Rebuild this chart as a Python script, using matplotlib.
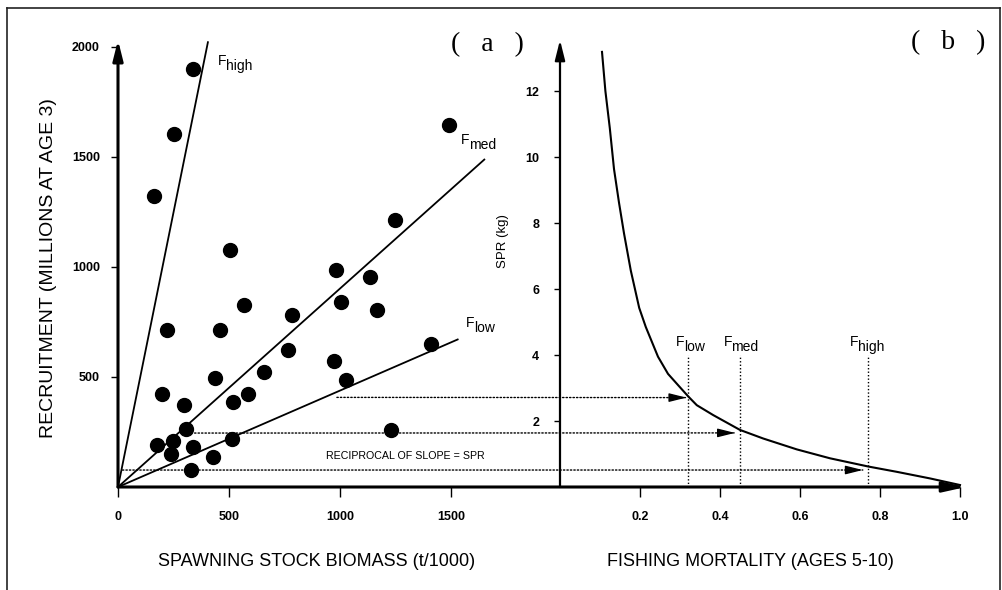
import matplotlib
matplotlib.use('Agg')
import matplotlib.pyplot as plt
from matplotlib.patches import ConnectionPatch
from matplotlib.lines import Line2D

plt.rcParams['font.family'] = ['Liberation Sans', 'DejaVu Sans']

# panel (a): spawning stock biomass (t/1000) vs recruitment (millions)
ssb = [337, 252, 161, 506, 981, 1133, 1248, 1489,
       221, 460, 568, 783, 1006, 1167, 764, 657, 971, 1025, 1410,
       437, 196, 297, 516, 585, 308, 176, 248, 239, 340, 430, 513, 331, 1231]
recruits = [1898, 1605, 1323, 1077, 984, 953, 1214, 1644,
            715, 715, 826, 783, 839, 803, 624, 523, 570, 488, 648,
            497, 421, 374, 385, 421, 262, 191, 208, 152, 182, 135, 220, 76, 258]

# replacement lines through the origin (end points)
line_subs = ['high', 'med', 'low']
line_ssb_end = [405, 1650, 1530]
line_rec_end = [2020, 1487, 670]
line_lab_ssb = [450, 1545, 1568]
line_lab_rec = [1936, 1577, 745]

# panel (b): SPR curve
f_vals = [0.105, 0.1135, 0.1245, 0.135, 0.1475, 0.160, 0.177, 0.198, 0.2145,
          0.245, 0.270, 0.298, 0.321, 0.342, 0.383, 0.45, 0.508, 0.592,
          0.675, 0.771, 0.842, 0.925, 1.0]
spr_vals = [13.19, 12.0, 10.88, 9.64, 8.62, 7.69, 6.56, 5.43, 4.85,
            3.95, 3.43, 3.05, 2.74, 2.48, 2.18, 1.73, 1.47, 1.14,
            0.87, 0.62, 0.46, 0.26, 0.06]

# reference F values
f_ref = [0.321, 0.45, 0.771]
f_ref_subs = ['low', 'med', 'high']
f_ref_lab_x = [0.29, 0.409, 0.725]
f_ref_top = 4.0

# dotted arrows: start in (a), end on the curve in (b)
arrow_ssb = [986, 345, 20]
arrow_rec = [407, 245, 77]
arrow_f = [0.316, 0.4375, 0.757]
arrow_spr = [2.71, 1.64, 0.515]

W, H = 1003, 590
fig = plt.figure(figsize=(W / 100, H / 100), dpi=100)
ax1 = fig.add_axes([118 / W, 1 - 487 / H, 442 / W, 447 / H])
ax2 = fig.add_axes([560 / W, 1 - 487 / H, 406 / W, 447 / H])

dots = (0, (1, 1.5))


def f_label(ax, x, y, sub):
    ax.text(x, y, 'F', fontsize=10, va='center', ha='left')
    ax.annotate(sub, xy=(x, y), xytext=(5.5, -3.5), textcoords='offset points',
                fontsize=10, va='center', ha='left')


# ---- panel (a)
ax1.plot(ssb, recruits, 'o', ms=10, color='k')
for xe, ye in zip(line_ssb_end, line_rec_end):
    ax1.plot([0, xe], [0, ye], 'k-', lw=1.3)
for x, y, s in zip(line_lab_ssb, line_lab_rec, line_subs):
    f_label(ax1, x, y, s)
ax1.text(1293, 141, 'RECIPROCAL OF SLOPE = SPR', fontsize=7.7, ha='center', va='center')

ax1.set_xlim(0, 1991)
ax1.set_ylim(0, 2030)
ax1.set_xticks([0, 500, 1000, 1500])
ax1.set_yticks([500, 1000, 1500, 2000])
ax1.tick_params(axis='y', length=5, width=1, pad=8, labelsize=9)
ax1.tick_params(axis='x', length=7, width=1, pad=10, labelsize=9)
for lab in ax1.get_xticklabels() + ax1.get_yticklabels():
    lab.set_fontweight('bold')
for s in ax1.spines.values():
    s.set_visible(False)
ax1.annotate('', xy=(0, 1), xytext=(0, 0), xycoords='axes fraction',
             arrowprops=dict(arrowstyle='-|>,head_length=0.8,head_width=0.2',
                             lw=2.2, color='k', shrinkA=0, shrinkB=0, mutation_scale=15))
ax1.set_ylabel('RECRUITMENT (MILLIONS AT AGE 3)', fontsize=14)
ax1.yaxis.set_label_coords(-0.138, 0.49)
ax1.set_xlabel('SPAWNING STOCK BIOMASS (t/1000)', fontsize=13)
ax1.xaxis.set_label_coords(0.45, -0.148)

# ---- panel (b)
ax2.plot(f_vals, spr_vals, 'k-', lw=1.5)
ax2.vlines(f_ref, 0, f_ref_top, colors='k', linestyles=[dots], lw=1)
for x, s in zip(f_ref_lab_x, f_ref_subs):
    f_label(ax2, x, 4.39, s)

ax2.set_xlim(0, 1.015)
ax2.set_ylim(0, 13.55)
ax2.set_xticks([0.2, 0.4, 0.6, 0.8, 1.0])
ax2.set_xticklabels(['0.2', '0.4', '0.6', '0.8', '1.0'])
ax2.set_yticks([2, 4, 6, 8, 10, 12])
ax2.tick_params(axis='y', length=4, width=1, pad=11, labelsize=9)
ax2.tick_params(axis='x', length=7, width=1, pad=10, labelsize=9)
for lab in ax2.get_xticklabels() + ax2.get_yticklabels():
    lab.set_fontweight('bold')
for s in ax2.spines.values():
    s.set_visible(False)
ax2.annotate('', xy=(0, 1), xytext=(0, 0), xycoords='axes fraction',
             arrowprops=dict(arrowstyle='-|>,head_length=0.8,head_width=0.2',
                             lw=1.6, color='k', shrinkA=0, shrinkB=0, mutation_scale=15))
ax2.set_ylabel('SPR (kg)', fontsize=9.5)
ax2.yaxis.set_label_coords(-0.125, 0.55)
ax2.set_xlabel('FISHING MORTALITY (AGES 5-10)', fontsize=13)
ax2.xaxis.set_label_coords(0.47, -0.148)

# shared x axis line with arrow at the right end
ax2.annotate('', xy=(1, 0), xycoords='axes fraction', xytext=(0, 0), textcoords=ax1.transAxes,
             arrowprops=dict(arrowstyle='-|>,head_length=0.9,head_width=0.2',
                             lw=2.2, color='k', shrinkA=0, shrinkB=0, mutation_scale=15),
             annotation_clip=False)

# dotted arrows across panels
for xs, ys, xf, yf in zip(arrow_ssb, arrow_rec, arrow_f, arrow_spr):
    con = ConnectionPatch(xyA=(xs, ys), coordsA=ax1.transData,
                          xyB=(xf, yf), coordsB=ax2.transData,
                          color='k', lw=1, linestyle=dots)
    fig.add_artist(con)
    ax2.annotate('', xy=(xf, yf), xytext=(-11, 0), textcoords='offset points',
                 arrowprops=dict(arrowstyle='-|>,head_length=0.8,head_width=0.2',
                                 lw=1, color='k', shrinkA=0, shrinkB=0, mutation_scale=13))

# panel tags
fig.text(487 / W, 1 - 45 / H, '(   a   )', family='Liberation Serif', fontsize=20,
         ha='center', va='center')
fig.text(948 / W, 1 - 43 / H, '(   b   )', family='Liberation Serif', fontsize=20,
         ha='center', va='center')

# scanned page frame
fr = dict(color='#222222', lw=1.2, transform=fig.transFigure)
fig.add_artist(Line2D([7 / W, 1000 / W], [1 - 8 / H, 1 - 8 / H], **fr))
fig.add_artist(Line2D([7 / W, 7 / W], [0, 1 - 8 / H], **fr))
fig.add_artist(Line2D([1000 / W, 1000 / W], [0, 1 - 8 / H], **fr))

fig.savefig('out.png', dpi=100)
